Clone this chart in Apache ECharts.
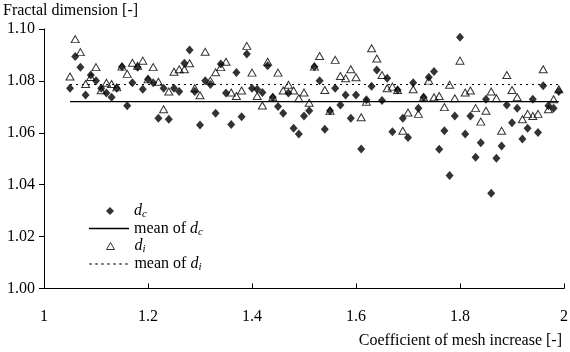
<!DOCTYPE html>
<html>
<head>
<meta charset="utf-8">
<script src="https://cdn.jsdelivr.net/npm/echarts@6/dist/echarts.min.js"></script>
<style>
  html, body { margin: 0; padding: 0; background: #fff; }
  #chart { width: 570px; height: 352px; }
</style>
</head>
<body>
<div id="chart"></div>
<script>
// coefficient of mesh increase (x)
const coef = [
  1.05, 1.06, 1.07, 1.08, 1.09, 1.10, 1.11, 1.12, 1.13, 1.14,
  1.15, 1.16, 1.17, 1.18, 1.19, 1.20, 1.21, 1.22, 1.23, 1.24,
  1.25, 1.26, 1.27, 1.28, 1.29, 1.30, 1.31, 1.32, 1.33, 1.34,
  1.35, 1.36, 1.37, 1.38, 1.39, 1.40, 1.41, 1.42, 1.43, 1.44,
  1.45, 1.46, 1.47, 1.48, 1.49, 1.50, 1.51, 1.52, 1.53, 1.54,
  1.55, 1.56, 1.57, 1.58, 1.59, 1.60, 1.61, 1.62, 1.63, 1.64,
  1.65, 1.66, 1.67, 1.68, 1.69, 1.70, 1.71, 1.72, 1.73, 1.74,
  1.75, 1.76, 1.77, 1.78, 1.79, 1.80, 1.81, 1.82, 1.83, 1.84,
  1.85, 1.86, 1.87, 1.88, 1.89, 1.90, 1.91, 1.92, 1.93, 1.94,
  1.95, 1.96, 1.97, 1.98, 1.99
];

// fractal dimension d_c
const dc = [
  1.0772, 1.0894, 1.0853, 1.0746, 1.0823, 1.0801, 1.0772, 1.0753, 1.0737, 1.0772,
  1.0855, 1.0704, 1.0793, 1.0853, 1.0768, 1.0806, 1.0793, 1.0656, 1.0772, 1.0652,
  1.0772, 1.0759, 1.0868, 1.0919, 1.0759, 1.0630, 1.0801, 1.0786, 1.0675, 1.0865,
  1.0753, 1.0632, 1.0832, 1.0662, 1.0904, 1.0772, 1.0768, 1.0755, 1.0858, 1.0737,
  1.0701, 1.0675, 1.0753, 1.0618, 1.0595, 1.0665, 1.0685, 1.0855, 1.0801, 1.0614,
  1.0685, 1.0772, 1.0707, 1.0746, 1.0656, 1.0746, 1.0538, 1.0727, 1.0779, 1.0842,
  1.0724, 1.0810, 1.0604, 1.0765, 1.0656, 1.0582, 1.0793, 1.0695, 1.0737, 1.0814,
  1.0836, 1.0537, 1.0608, 1.0435, 1.0665, 1.0968, 1.0595, 1.0665, 1.0506, 1.0562,
  1.0729, 1.0367, 1.0502, 1.0549, 1.0707, 1.0639, 1.0695, 1.0576, 1.0618, 1.0729,
  1.0601, 1.0781, 1.0704, 1.0695, 1.0759
];

// fractal dimension d_i
const di = [
  1.0817, 1.0961, 1.0911, 1.0788, 1.0815, 1.0853, 1.0764, 1.0793, 1.0788, 1.0775,
  1.0855, 1.0827, 1.0870, 1.0858, 1.0878, 1.0806, 1.0853, 1.0797, 1.0691, 1.0759,
  1.0835, 1.0845, 1.0845, 1.0868, 1.0772, 1.0745, 1.0912, 1.0801, 1.0833, 1.0853,
  1.0874, 1.0755, 1.0742, 1.0763, 1.0935, 1.0832, 1.0742, 1.0705, 1.0874, 1.0737,
  1.0832, 1.0763, 1.0785, 1.0763, 1.0733, 1.0755, 1.0716, 1.0855, 1.0896, 1.0765,
  1.0685, 1.0881, 1.0819, 1.0810, 1.0845, 1.0814, 1.0660, 1.0720, 1.0926, 1.0886,
  1.0823, 1.0772, 1.0778, 1.0765, 1.0608, 1.0678, 1.0768, 1.0673, 1.0737, 1.0801,
  1.0737, 1.0742, 1.0699, 1.0785, 1.0733, 1.0878, 1.0755, 1.0763, 1.0695, 1.0643,
  1.0685, 1.0759, 1.0733, 1.0608, 1.0823, 1.0765, 1.0737, 1.0652, 1.0673, 1.0665,
  1.0673, 1.0845, 1.0691, 1.0729, 1.0768
];

// mean lines
const meanDc = 1.0720;
const meanDi = 1.0786;
const meanRange = [1.05, 1.99];

const yTicks = ['1.00', '1.02', '1.04', '1.06', '1.08', '1.10'];

const font = 'Liberation Serif';

const chart = echarts.init(document.getElementById('chart'), null, { renderer: 'canvas' });

const rich = {
  i: { fontFamily: font, fontSize: 16, fontStyle: 'italic', color: '#000', lineHeight: 18 },
  ip: { fontFamily: font, fontSize: 16, fontStyle: 'italic', color: '#000', lineHeight: 18, padding: [0, 0, 0, 15] },
  s: { fontFamily: font, fontSize: 11, fontStyle: 'italic', color: '#000', verticalAlign: 'bottom', lineHeight: 18 },
  t: { fontFamily: font, fontSize: 16, color: '#000', lineHeight: 18 }
};
const legendText = {
  dc: '{ip|d}{s|c}',
  meanDc: '{t|mean of }{i|d}{s|c}',
  di: '{ip|d}{s|i}',
  meanDi: '{t|mean of }{i|d}{s|i}'
};

// one legend block per row so marker rows and line rows share a text column
function legendRow(item, left, top, width, height) {
  return {
    orient: 'vertical',
    left: left,
    top: top,
    itemWidth: width,
    itemHeight: height,
    padding: 0,
    selectedMode: false,
    data: [item],
    formatter: name => legendText[name],
    textStyle: { fontFamily: font, fontSize: 16, color: '#000', rich: rich }
  };
}

chart.setOption({
  animation: false,
  backgroundColor: '#fff',
  title: {
    text: 'Fractal dimension [-]',
    left: 3,
    top: 3,
    padding: 0,
    textStyle: { fontFamily: font, fontSize: 16, fontWeight: 'normal', color: '#000' }
  },
  grid: {
    left: 44,
    right: 6,
    top: 29,
    bottom: 63.5,
    outerBoundsMode: 'none'
  },
  legend: [
    legendRow({ name: 'dc', icon: 'diamond', itemStyle: { color: '#000' } }, 106, 203, 8, 8),
    legendRow({ name: 'meanDc', icon: 'rect', itemStyle: { color: '#000', borderWidth: 0 } }, 89, 220.5, 40, 1.3),
    legendRow({ name: 'di', icon: 'triangle', itemStyle: { color: 'transparent', borderColor: '#000', borderWidth: 1 } }, 106, 238, 8, 7),
    legendRow({ name: 'meanDi', icon: 'rect', itemStyle: { color: 'transparent', borderColor: '#000', borderWidth: 0.8, borderType: [2, 4] } }, 89, 256, 40, 0.2)
  ],
  xAxis: {
    type: 'value',
    min: 1,
    max: 2,
    interval: 0.2,
    name: 'Coefficient of mesh increase [-]',
    nameLocation: 'end',
    nameGap: -2,
    nameTextStyle: {
      fontFamily: font, fontSize: 16, color: '#000',
      align: 'right', verticalAlign: 'top', padding: [44, 0, 0, 0]
    },
    axisLine: { lineStyle: { color: '#000', width: 1 } },
    axisTick: { inside: true, length: 5, lineStyle: { color: '#000' } },
    axisLabel: {
      margin: 20,
      fontFamily: font, fontSize: 16, color: '#000',
      formatter: v => String(parseFloat(v.toFixed(1)))
    },
    splitLine: { show: false }
  },
  yAxis: {
    type: 'value',
    min: 1.0,
    max: 1.1,
    interval: 0.02,
    axisLine: { show: true, lineStyle: { color: '#000', width: 1 } },
    axisTick: { show: true, inside: false, length: 5, lineStyle: { color: '#000' } },
    axisLabel: {
      margin: 9,
      fontFamily: font, fontSize: 16, color: '#000',
      formatter: (v, idx) => yTicks[idx] !== undefined ? yTicks[idx] : v.toFixed(2)
    },
    splitLine: { show: false }
  },
  series: [
    {
      name: 'dc',
      type: 'scatter',
      symbol: 'diamond',
      symbolSize: [8, 9],
      itemStyle: { color: '#000' },
      data: coef.map((x, i) => [x, dc[i]]),
      z: 2
    },
    {
      name: 'meanDc',
      type: 'line',
      symbol: 'none',
      itemStyle: { color: '#000' },
      lineStyle: { color: '#000', width: 1.3, type: 'solid' },
      data: meanRange.map(x => [x, meanDc]),
      z: 3
    },
    {
      name: 'di',
      type: 'scatter',
      symbol: 'triangle',
      symbolSize: [8, 7],
      itemStyle: { color: 'transparent', borderColor: '#000', borderWidth: 1 },
      data: coef.map((x, i) => [x, di[i]]),
      z: 4
    },
    {
      name: 'meanDi',
      type: 'line',
      symbol: 'none',
      itemStyle: { color: '#000' },
      lineStyle: { color: '#000', width: 1, type: [2, 4] },
      data: meanRange.map(x => [x, meanDi]),
      z: 3
    }
  ]
});
</script>
</body>
</html>
